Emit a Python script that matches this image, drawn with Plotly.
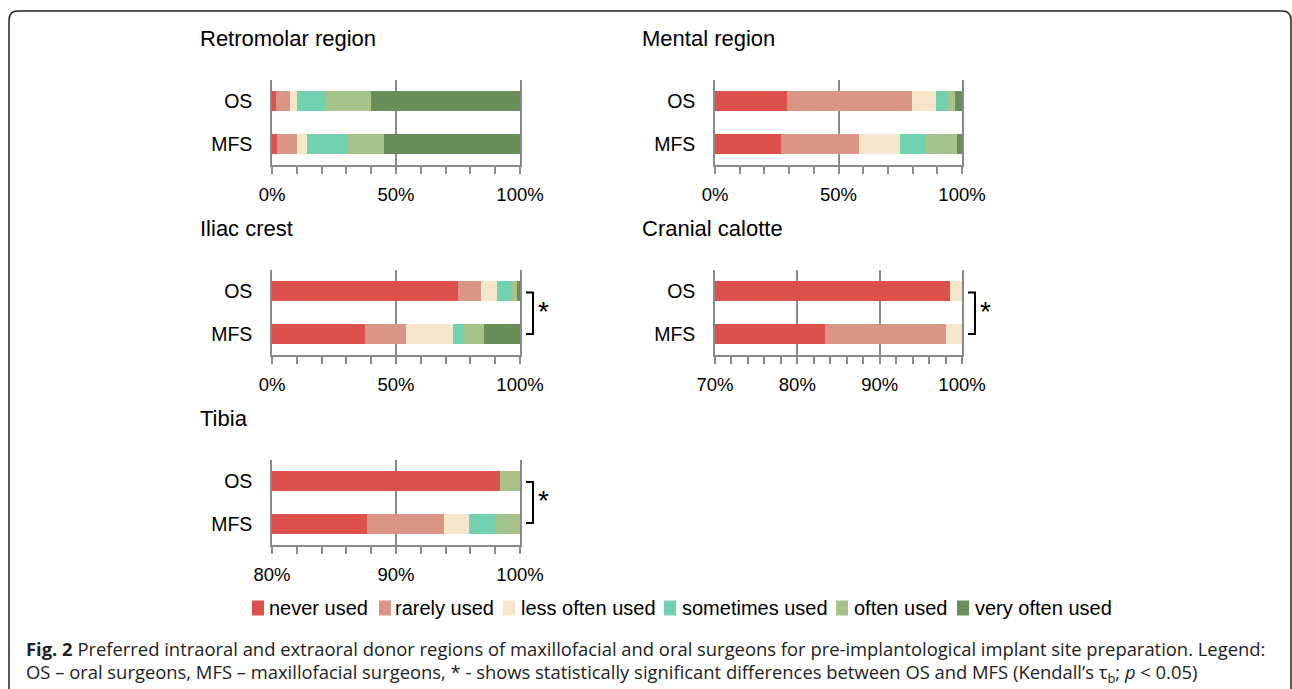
import plotly.graph_objects as go

# ---------------- data ----------------
categories = ["never used", "rarely used", "less often used", "sometimes used", "often used", "very often used"]
colors = ["#DD514D", "#DB9586", "#F6E6CA", "#72D1AE", "#A6C48A", "#688F5A"]
groups = ["OS", "MFS"]

retromolar_os = [1.5, 5.8, 2.9, 11.7, 17.9, 60.2]
retromolar_mfs = [1.9, 8.1, 4.1, 16.5, 14.5, 54.9]
mental_os = [29.0, 50.9, 9.5, 4.5, 3.1, 3.0]
mental_mfs = [26.7, 31.5, 16.7, 10.5, 12.6, 2.0]
iliac_os = [75.1, 9.2, 6.3, 6.3, 1.8, 1.3]
iliac_mfs = [37.6, 16.6, 18.7, 4.2, 8.4, 14.5]
cranial_os = [98.5, 0, 1.5, 0, 0, 0]
cranial_mfs = [83.3, 14.7, 2.0, 0, 0, 0]
tibia_os = [98.4, 0, 0, 0, 1.6, 0]
tibia_mfs = [87.7, 6.2, 2.0, 2.1, 2.0, 0]

titles = ["Retromolar region", "Mental region", "Iliac crest", "Cranial calotte", "Tibia"]
ranges = [[0, 100], [0, 100], [0, 100], [70, 100], [80, 100]]
major_ticks = [[0, 50, 100], [0, 50, 100], [0, 50, 100], [70, 80, 90, 100], [80, 90, 100]]
minor_steps = [10, 10, 10, 2, 2]
significant = [False, False, True, True, True]

caption_bold = "Fig. 2"
caption_line1 = (" Preferred intraoral and extraoral donor regions of maxillofacial and oral surgeons "
                 "for pre-implantological implant site preparation. Legend:")
caption_line2 = ("OS – oral surgeons, MFS – maxillofacial surgeons, * - shows statistically significant "
                 "differences between OS and MFS (Kendall’s τ<sub>b</sub>; <i>p</i> &lt; 0.05)")

# ---------------- layout geometry (pixels) ----------------
W, H = 1292, 689
def px(x):
    return x / W
def py(y):
    return 1 - y / H

# plot-area boxes: (left, right, top, bottom)
boxes = [(272, 520, 80, 165), (715, 962, 80, 165),
         (272, 520, 270, 355), (715, 962, 270, 355),
         (272, 520, 460, 545)]
title_pos = [(198, 38), (640, 38), (198, 228), (640, 228), (198, 418)]

FONT = "Liberation Sans, Arial, sans-serif"
CFONT = "Open Sans, Noto Sans, sans-serif"
GRAY = "#8a8a8a"

panel_data = [(retromolar_os, retromolar_mfs), (mental_os, mental_mfs),
              (iliac_os, iliac_mfs), (cranial_os, cranial_mfs), (tibia_os, tibia_mfs)]

fig = go.Figure()
layout = dict(
    template="none",
    width=W, height=H, autosize=False,
    margin=dict(l=0, r=0, t=0, b=0, pad=0, autoexpand=False),
    paper_bgcolor="white", plot_bgcolor="white",
    barmode="stack", bargap=0.54, showlegend=False,
    font=dict(family=FONT, color="black"),
)

shapes = []
annotations = []

for i, (os_vals, mfs_vals) in enumerate(panel_data):
    n = "" if i == 0 else str(i + 1)
    for k, cat in enumerate(categories):
        fig.add_trace(go.Bar(
            x=[os_vals[k], mfs_vals[k]], y=groups, orientation="h",
            name=cat, marker=dict(color=colors[k], line=dict(width=0)),
            xaxis="x" + n, yaxis="y" + n, showlegend=False,
            hovertemplate=cat + ": %{x}%<extra></extra>",
        ))
    l, r, t, b = boxes[i]
    layout["xaxis" + n] = dict(
        domain=[px(l), px(r)], anchor="y" + n, range=ranges[i], automargin=False,
        tickmode="array", tickvals=major_ticks[i],
        ticktext=[str(v) + "%" for v in major_ticks[i]],
        showgrid=True, gridcolor=GRAY, gridwidth=1.5,
        ticks="outside", ticklen=7, tickwidth=1.5, tickcolor=GRAY,
        minor=dict(dtick=minor_steps[i], tick0=ranges[i][0], ticks="outside",
                   ticklen=7, tickwidth=1.5, tickcolor=GRAY, showgrid=False),
        showline=True, linecolor=GRAY, linewidth=1.5,
        zeroline=False, fixedrange=True,
        tickfont=dict(size=18.5, family=FONT, color="black"), ticklabelstandoff=5,
    )
    layout["yaxis" + n] = dict(
        domain=[py(b), py(t)], anchor="x" + n, automargin=False,
        categoryorder="array", categoryarray=groups, autorange="reversed",
        showgrid=False, zeroline=False, ticks="",
        showline=True, mirror=True, linecolor=GRAY, linewidth=1.5,
        tickfont=dict(size=19.5, family=FONT, color="black"), ticklabelstandoff=14,
        fixedrange=True,
    )
    tx, ty = title_pos[i]
    annotations.append(dict(
        text=titles[i], xref="paper", yref="paper", x=px(tx), y=py(ty),
        xanchor="left", yanchor="middle", showarrow=False,
        font=dict(size=22, family=FONT, color="black"),
    ))
    if significant[i]:
        bx = r + 13
        ytop = 292.5 if i != 4 else 482
        ybot = 334 if i != 4 else 523
        path = "M {},{} L {},{} L {},{} L {},{}".format(
            px(bx - 7), py(ytop), px(bx), py(ytop), px(bx), py(ybot), px(bx - 7), py(ybot))
        shapes.append(dict(type="path", path=path, xref="paper", yref="paper",
                           line=dict(color="black", width=2)))
        annotations.append(dict(
            text="*", xref="paper", yref="paper", x=px(bx + 3), y=py((ytop + ybot) / 2 - 2),
            xanchor="left", yanchor="middle", showarrow=False,
            font=dict(size=28, family=FONT, color="black"),
        ))

# ---------------- legend (drawn) ----------------
legend_sq_x = [252, 379, 503, 664, 836, 957]
legend_txt_x = [267, 393, 519, 680, 852, 973]
legend_y = 608
for k, cat in enumerate(categories):
    sx = legend_sq_x[k]
    shapes.append(dict(type="rect", xref="paper", yref="paper",
                       x0=px(sx), x1=px(sx + 12), y0=py(legend_y + 7.5), y1=py(legend_y - 7.5),
                       fillcolor=colors[k], line=dict(width=0)))
    annotations.append(dict(
        text=cat, xref="paper", yref="paper", x=px(legend_txt_x[k]), y=py(legend_y),
        xanchor="left", yanchor="middle", showarrow=False,
        font=dict(size=20, family=FONT, color="black"),
    ))

# ---------------- frame + caption ----------------
rad = 9
frame = "M {},{} L {},{} Q {},{} {},{} L {},{} Q {},{} {},{} L {},{}".format(
    px(9), py(700), px(9), py(11 + rad), px(9), py(11), px(9 + rad), py(11),
    px(1291 - rad), py(11), px(1291), py(11), px(1291), py(11 + rad), px(1291), py(700))
shapes.append(dict(type="path", path=frame, xref="paper", yref="paper",
                   line=dict(color="#222222", width=1.5)))

annotations.append(dict(
    text="<b>" + caption_bold + "</b>" + caption_line1, xref="paper", yref="paper",
    x=px(24), y=py(648), xanchor="left", yanchor="middle", showarrow=False,
    font=dict(size=18.4, family=CFONT, color="#222222"),
))
annotations.append(dict(
    text=caption_line2, xref="paper", yref="paper",
    x=px(24), y=py(673), xanchor="left", yanchor="middle", showarrow=False,
    font=dict(size=18.4, family=CFONT, color="#222222"),
))

layout["shapes"] = shapes
layout["annotations"] = annotations
fig.update_layout(**layout)
fig.write_html(
    "out.html",
    config={"displayModeBar": False},
    post_script="document.body.style.margin='0';document.body.style.overflow='hidden';",
)
